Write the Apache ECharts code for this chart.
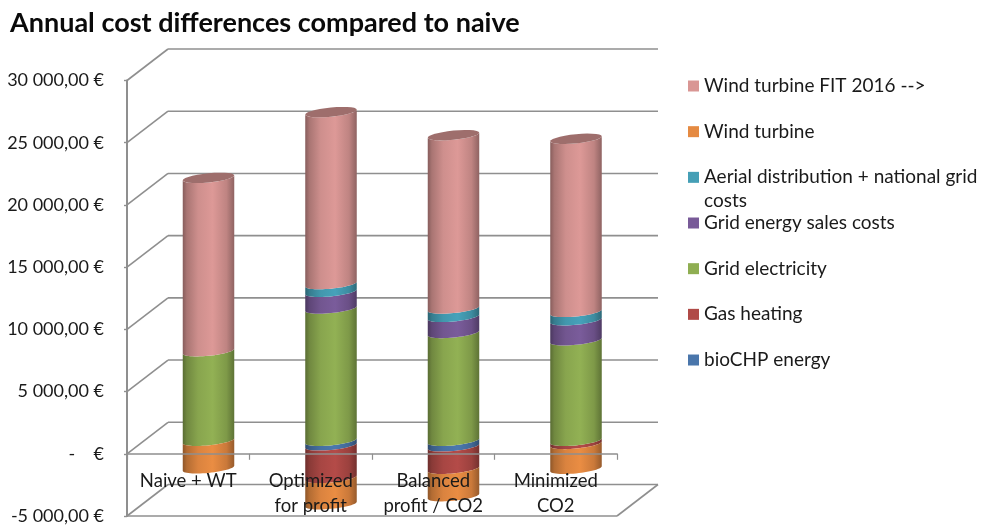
<!DOCTYPE html>
<html>
<head>
<meta charset="utf-8">
<style>html,body{margin:0;padding:0;background:#fff}#c{width:983px;height:527px}</style>
<script src="https://cdn.jsdelivr.net/npm/echarts@6/dist/echarts.min.js"></script>
</head>
<body>
<div id="c"></div>
<script>
const categories = ['Naive + WT', 'Optimized\nfor profit', 'Balanced\nprofit / CO2', 'Minimized\nCO2'];
const yTickValues = [-5000, 0, 5000, 10000, 15000, 20000, 25000, 30000];
const yTickLabels = ['-5 000,00 €', '-    €', '5 000,00 €', '10 000,00 €', '15 000,00 €', '20 000,00 €', '25 000,00 €', '30 000,00 €'];

const bioCHP = [0, -370, -450, 0];
const gasHeating = [0, -2610, -1800, -250];
const gridElectricity = [7200, 10630, 8670, 8080];
const gridSales = [0, 1345, 1290, 1610];
const aerial = [0, 620, 670, 670];
const windTurbine = [-2210, -2120, -2200, -2000];
const windFIT = [13930, 13820, 13930, 13910];

const seriesNames = ['bioCHP energy', 'Gas heating', 'Grid electricity', 'Grid energy sales costs',
  'Aerial distribution + national grid costs', 'Wind turbine', 'Wind turbine FIT 2016 -->'];
const seriesValues = [bioCHP, gasHeating, gridElectricity, gridSales, aerial, windTurbine, windFIT];
const seriesColors = ['#4a76ab', '#b04a47', '#8fae52', '#785a98', '#459fb6', '#e58a42', '#d99694'];

const DEPTH_X = 41, DEPTH_Y = -31.5;     // oblique depth of the 3D box
const CYL_DX = 20.25, CYL_DY = -13;      // cylinders stand inside the box
const CYL_A = 25.75, CYL_B = 4.6, CYL_SHEAR = 2.5;
const WALL = '#8f8f8f';

function shade(hex, f) {
  const n = parseInt(hex.slice(1), 16);
  const c = [n >> 16 & 255, n >> 8 & 255, n & 255].map(v => Math.round(Math.min(255, v * f)));
  return 'rgb(' + c.join(',') + ')';
}
function bodyFill(hex) {
  return new echarts.graphic.LinearGradient(0, 0, 1, 0, [
    { offset: 0, color: shade(hex, 0.62) },
    { offset: 0.08, color: shade(hex, 0.78) },
    { offset: 0.3, color: shade(hex, 0.95) },
    { offset: 0.58, color: shade(hex, 1.02) },
    { offset: 0.85, color: shade(hex, 0.88) },
    { offset: 1, color: shade(hex, 0.66) }
  ]);
}
function arc(cx, cy, from, to) {
  const pts = [], N = 28;
  for (let i = 0; i <= N; i++) {
    const t = from + (to - from) * i / N;
    pts.push([cx + CYL_A * Math.cos(t), cy - CYL_SHEAR * Math.cos(t) - CYL_B * Math.sin(t)]);
  }
  return pts;
}

// stack the segments: positives upward from zero, negatives downward
const posSum = categories.map(() => 0), negSum = categories.map(() => 0);
const cylinderSeries = seriesNames.map((name, si) => {
  const color = seriesColors[si];
  const isTop = si === seriesNames.length - 1;
  const data = seriesValues[si].map((v, ci) => {
    const sums = v >= 0 ? posSum : negSum;
    const base = sums[ci];
    sums[ci] += v;
    return [ci, base, sums[ci]];
  });
  return {
    type: 'custom', name, z: 2, data,
    itemStyle: { color },
    encode: { x: 0, y: [1, 2] },
    renderItem(params, api) {
      const ci = api.value(0), a = api.value(1), b = api.value(2);
      if (a === b) return null;
      const hi = Math.max(a, b), lo = Math.min(a, b);
      const pHi = api.coord([ci, hi]), pLo = api.coord([ci, lo]);
      const cx = pHi[0] + CYL_DX, yHi = pHi[1] + CYL_DY, yLo = pLo[1] + CYL_DY;
      const poly = arc(cx, yHi, Math.PI, 2 * Math.PI).concat(arc(cx, yLo, 2 * Math.PI, Math.PI));
      const children = [{ type: 'polygon', shape: { points: poly }, style: { fill: bodyFill(color) } }];
      if (isTop) {
        children.push({
          type: 'polygon',
          shape: { points: arc(cx, yHi, 0, 2 * Math.PI) },
          style: { fill: shade(color, 0.73) }
        });
      }
      return { type: 'group', children };
    }
  };
});

const wallSeries = {
  type: 'custom', z: 1, silent: true, legendHoverLink: false,
  data: yTickValues.map(v => [0, v]),
  encode: { x: 0, y: 1 },
  renderItem(params, api) {
    const v = api.value(1);
    const g = params.coordSys;
    const y = api.coord([0, v])[1];
    const left = g.x, right = g.x + g.width;
    const st = { stroke: WALL, lineWidth: 1.6, fill: null };
    const line = (x1, y1, x2, y2) => ({ type: 'line', shape: { x1, y1, x2, y2 }, style: st });
    const kids = [
      line(left, y, left + DEPTH_X, y + DEPTH_Y),
      line(left + DEPTH_X, y + DEPTH_Y, right + DEPTH_X, y + DEPTH_Y)
    ];
    if (v === yTickValues[0]) {
      kids.push(line(left, y, right, y));
      kids.push(line(right, y, right + DEPTH_X, y + DEPTH_Y));
    }
    return { type: 'group', children: kids };
  }
};

const FONT = 'Lato';
const chart = echarts.init(document.getElementById('c'), null, { renderer: 'canvas' });
chart.setOption({
  animation: false,
  backgroundColor: '#fff',
  title: {
    text: 'Annual cost differences compared to naive',
    left: 5, top: 5,
    textStyle: { fontFamily: FONT, fontWeight: 'bold', fontSize: 27, color: '#0a0a0a' }
  },
  grid: { left: 127, right: 366, top: 80.5, bottom: 11 },
  legend: {
    orient: 'vertical', left: 683, top: 71,
    icon: 'rect', itemWidth: 11, itemHeight: 11, itemGap: 25.67,
    selectedMode: false,
    data: seriesNames.slice().reverse(),
    formatter: n => n.replace(' costs', n.startsWith('Aerial') ? '' : ' costs'),
    textStyle: { fontFamily: FONT, fontSize: 19, color: '#1a1a1a', lineHeight: 20 }
  },
  graphic: [{
    type: 'text', left: 704, top: 191,
    style: { text: 'costs', font: '19px ' + FONT, fill: '#1a1a1a' }
  }],
  xAxis: [{
    type: 'category', data: categories, z: 3,
    axisLine: { onZero: true, lineStyle: { color: WALL, width: 1.6 } },
    axisTick: { show: true, length: 6, lineStyle: { color: WALL, width: 1.2 } },
    axisLabel: { show: false }
  }, {
    type: 'category', data: categories, z: 6, position: 'bottom', offset: -62.5,
    axisLine: { show: false, onZero: false }, axisTick: { show: false },
    axisLabel: { show: true, margin: 15.5, interval: 0, fontFamily: FONT, fontSize: 18.5, lineHeight: 25, color: '#1a1a1a' }
  }],
  yAxis: {
    type: 'value', min: -5000, max: 30000, interval: 5000,
    axisLine: { show: true, onZero: false, lineStyle: { color: WALL, width: 2 } },
    axisTick: { show: true, length: 3, lineStyle: { color: WALL, width: 1.4 } },
    splitLine: { show: false },
    axisLabel: {
      margin: 23, fontFamily: FONT, fontSize: 18, color: '#1a1a1a',
      formatter: v => yTickLabels[yTickValues.indexOf(v)]
    }
  },
  series: [wallSeries].concat(cylinderSeries)
});
</script>
</body>
</html>
